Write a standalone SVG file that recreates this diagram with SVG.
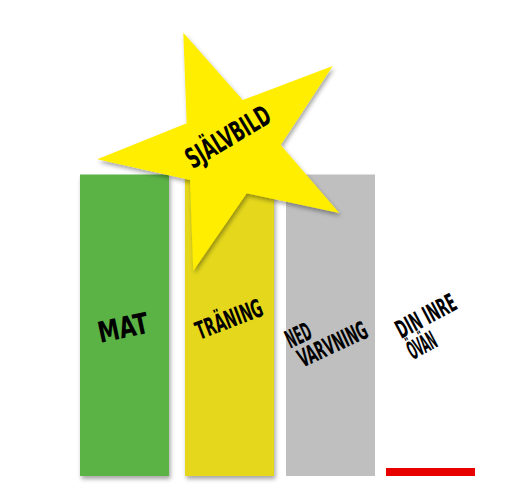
<svg xmlns="http://www.w3.org/2000/svg" width="526" height="498" viewBox="0 0 526 498">
<defs>
<filter id="sh" x="-10%" y="-10%" width="130%" height="130%">
<feDropShadow dx="1.5" dy="3" stdDeviation="2" flood-color="#000" flood-opacity="0.35"/>
</filter>
<style>
.lbl{font-family:"DejaVu Sans Condensed","DejaVu Sans",sans-serif;font-weight:bold;fill:#000;text-anchor:middle}
</style>
</defs>
<rect width="526" height="498" fill="#fff"/>
<g id="mat">
<rect x="80" y="174.5" width="89" height="301.5" fill="#5BB344" filter="url(#sh)"/>
<text class="lbl" transform="translate(123,327.5) rotate(-12)" y="10.5" font-size="29" textLength="51" lengthAdjust="spacingAndGlyphs">MAT</text>
</g>
<g id="traning">
<rect x="185" y="174.5" width="89" height="301.5" fill="#E5D81A" filter="url(#sh)"/>
<text class="lbl" transform="translate(229,319) rotate(-21)" y="9" font-size="25" textLength="70" lengthAdjust="spacingAndGlyphs">TRÄNING</text>
</g>
<g id="nedvarvning">
<rect x="286" y="174.5" width="89" height="301.5" fill="#BFBFBF"/>
<text class="lbl" transform="translate(298.3,335) rotate(-25)" y="9" font-size="25" textLength="26" lengthAdjust="spacingAndGlyphs">NED</text>
<text class="lbl" transform="translate(332.5,344) rotate(-25)" y="9" font-size="25" textLength="74" lengthAdjust="spacingAndGlyphs">VARVNING</text>
</g>
<g id="dininrevan">
<rect x="386" y="468" width="89" height="8" fill="#E60000"/>
<text class="lbl" transform="translate(425.8,315.8) rotate(-28)" y="9" font-size="25" textLength="65" lengthAdjust="spacingAndGlyphs">DIN INRE</text>
<text class="lbl" transform="translate(421.7,345) rotate(-28)" y="9" font-size="25" textLength="30" lengthAdjust="spacingAndGlyphs">ÖVÄN</text>
</g>
<g id="sjalvbild">
<polygon points="183.3,32.7 242.7,100 332.7,66 280.7,145 339.3,213 246.7,193.3 193.3,270.7 190,180 97.3,159.3 186.7,123.3" fill="#FFEE00" filter="url(#sh)"/>
<text class="lbl" transform="translate(228,136.5) rotate(-31)" y="10" font-size="28" textLength="94" lengthAdjust="spacingAndGlyphs">SJÄLVBILD</text>
</g>
</svg>
